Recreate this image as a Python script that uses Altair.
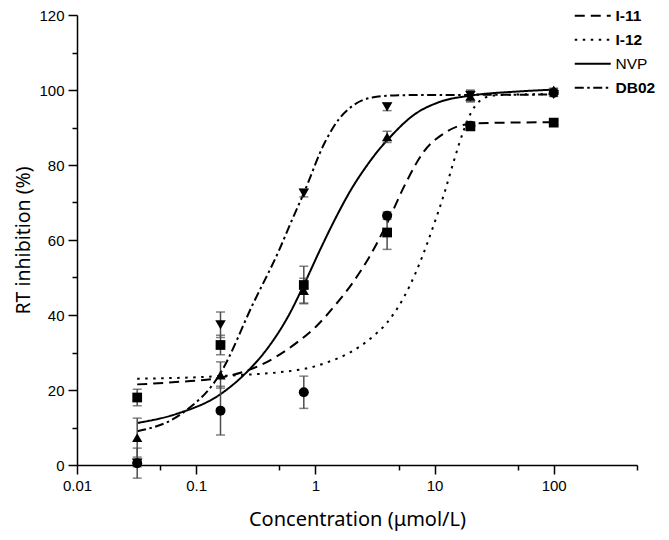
import altair as alt
import pandas as pd

# ---------------- data ----------------
series = ["I-11", "I-12", "NVP", "DB02"]
conc = [0.032, 0.16, 0.8, 4, 20, 100]

i11_mean = [18.0, 32.0, 48.0, 62.0, 90.3, 91.3]
i11_err = [2.2, 2.6, 5.0, 4.5, 1.0, 0.5]
i12_mean = [0.5, 14.5, 19.4, 66.5, 90.5, 99.3]
i12_err = [1.0, 6.5, 4.3, 1.0, 1.0, 1.0]
nvp_mean = [7.3, 24.0, 46.5, 87.5, 98.3, 100.0]
nvp_err = [5.2, 3.5, 3.3, 1.5, 1.5, 0.5]
db02_mean = [0.5, 37.4, 72.5, 95.5, 98.5, 98.8]
db02_err = [4.0, 3.4, 1.0, 1.0, 1.5, 0.5]

# fitted curves
i11_fit_x = [0.032, 0.074, 0.16, 0.34, 0.69, 1.02, 1.5, 2.1, 2.9, 4, 5.7, 8.1, 12.1, 20, 40, 100]
i11_fit_y = [21.5, 22.2, 23.3, 26.5, 32.5, 37.0, 43.0, 49.0, 56.0, 64.5, 75.0, 83.5, 88.5, 91.0, 91.3, 91.4]
i12_fit_x = [0.032, 0.16, 0.8, 1.24, 1.98, 3.1, 3.96, 5.5, 7.0, 8.5, 10.1, 12.1, 14.5, 17.7, 20.3, 23.8, 30.6, 50, 100]
i12_fit_y = [23.0, 23.7, 25.6, 27.3, 30.1, 34.5, 37.8, 44.6, 51.5, 58.3, 65.0, 72.5, 81.0, 89.5, 94.0, 97.0, 98.5, 98.8, 98.9]
nvp_fit_x = [0.032, 0.068, 0.16, 0.27, 0.39, 0.6, 0.8, 1.1, 1.46, 2, 2.8, 3.5, 4.2, 6.6, 11, 20, 50, 100]
nvp_fit_y = [11.2, 13.6, 18.9, 25.0, 30.8, 40.0, 48.0, 57.5, 65.5, 73.5, 80.5, 84.5, 87.3, 93.2, 96.8, 98.5, 99.6, 100.1]
db02_fit_x = [0.032, 0.074, 0.16, 0.3, 0.5, 0.63, 0.8, 1.2, 1.6, 2, 3, 5, 10, 20, 100]
db02_fit_y = [9.0, 13.5, 24.5, 43.0, 57.5, 65.0, 72.5, 86.0, 92.5, 95.5, 98.0, 98.6, 98.7, 98.7, 98.8]

x_ticks = [0.01, 0.1, 1, 10, 100]
x_minor = [0.05, 0.5, 5, 50, 500]
y_ticks = [0, 20, 40, 60, 80, 100, 120]
y_minor = [10, 30, 50, 70, 90, 110]

# ---------------- tables ----------------
pt_rows = []
for name, means, errs in zip(series, [i11_mean, i12_mean, nvp_mean, db02_mean],
                             [i11_err, i12_err, nvp_err, db02_err]):
    for c, m, e in zip(conc, means, errs):
        pt_rows.append({"marker": name, "conc": c, "mean": m, "lo": m - e, "hi": m + e})
pts = pd.DataFrame(pt_rows)

fit_rows = []
for name, xs, ys in zip(series, [i11_fit_x, i12_fit_x, nvp_fit_x, db02_fit_x],
                        [i11_fit_y, i12_fit_y, nvp_fit_y, db02_fit_y]):
    for c, v in zip(xs, ys):
        fit_rows.append({"series": name, "conc": c, "value": v})
fit = pd.DataFrame(fit_rows)

# ---------------- scales ----------------
x_scale = alt.Scale(type="log", domain=[0.01, 500])
y_scale = alt.Scale(domain=[0, 120], nice=False)
dash_scale = alt.Scale(domain=series, range=[[10, 6], [2.5, 5.5], [1, 0], [9, 3.5, 2.5, 3.5]])
shape_scale = alt.Scale(domain=series, range=["square", "circle", "triangle-up", "triangle-down"])
size_scale = alt.Scale(domain=series, range=[95, 110, 130, 130])

tick_font = "Liberation Sans"
title_font = "Noto Sans"

x_axis = alt.Axis(values=x_ticks, format="~g", title="Concentration (μmol/L)", orient="bottom",
                  grid=False, tickSize=9, tickWidth=1.5, tickColor="black",
                  domainColor="black", domainWidth=1.5, labelFont=tick_font, labelFontSize=15,
                  labelColor="black", labelPadding=4, labelFlush=False,
                  titleFont=title_font, titleFontSize=20, titleFontWeight="normal",
                  titleColor="black", titlePadding=16)
y_axis = alt.Axis(values=y_ticks, title="RT inhibition (%)", orient="left",
                  grid=False, tickSize=9, tickWidth=1.5, tickColor="black",
                  domainColor="black", domainWidth=1.5, labelFont=tick_font, labelFontSize=15,
                  labelColor="black", labelPadding=4, labelFlush=False,
                  titleFont=title_font, titleFontSize=19.5, titleFontWeight="normal",
                  titleColor="black", titlePadding=5)
x_minor_axis = alt.Axis(values=x_minor, title=None, orient="bottom", grid=False, domain=False,
                        labels=False, tickSize=5, tickWidth=1.5, tickColor="black")
y_minor_axis = alt.Axis(values=y_minor, title=None, orient="left", grid=False, domain=False,
                        labels=False, tickSize=5, tickWidth=1.5, tickColor="black")

legend = alt.Legend(title=None, orient="none", legendX=508, legendY=-7, padding=0,
                    symbolType="M-3,0H3", symbolSize=144, symbolStrokeWidth=2,
                    symbolStrokeColor="black", labelFont=tick_font, labelFontSize=15.5,
                    labelColor="black",
                    labelFontWeight=alt.ExprRef("datum.label == 'NVP' ? 'normal' : 'bold'"),
                    labelOffset=15, rowPadding=7)

lines = alt.Chart(fit).mark_line(color="black", strokeWidth=2, interpolate="monotone",
                                 strokeCap="butt").encode(
    x=alt.X("conc:Q", scale=x_scale, axis=x_axis),
    y=alt.Y("value:Q", scale=y_scale, axis=y_axis),
    strokeDash=alt.StrokeDash("series:N", scale=dash_scale, legend=legend),
)

minor = alt.Chart(pts).mark_point(opacity=0).encode(
    x=alt.X("conc:Q", scale=x_scale, axis=x_minor_axis),
    y=alt.Y("mean:Q", scale=y_scale, axis=y_minor_axis),
)

err = alt.Chart(pts).mark_rule(color="#4d4d4d", strokeWidth=1.5).encode(
    x=alt.X("conc:Q", scale=x_scale, axis=None),
    y=alt.Y("lo:Q", scale=y_scale, axis=None),
    y2="hi:Q",
)

caps = alt.Chart(pts).transform_fold(["lo", "hi"], as_=["end", "yv"]).mark_tick(
    orient="horizontal", size=9, thickness=1.5, color="#4d4d4d").encode(
    x=alt.X("conc:Q", scale=x_scale, axis=None),
    y=alt.Y("yv:Q", scale=y_scale, axis=None),
)

points = alt.Chart(pts).mark_point(filled=True, color="black", opacity=1).encode(
    x=alt.X("conc:Q", scale=x_scale, axis=None),
    y=alt.Y("mean:Q", scale=y_scale, axis=None),
    shape=alt.Shape("marker:N", scale=shape_scale, legend=None),
    size=alt.Size("marker:N", scale=size_scale, legend=None),
)

chart = alt.layer(lines, minor, err, caps, points).resolve_axis(
    x="independent", y="independent"
).resolve_legend(shape="independent", size="independent", strokeDash="independent").properties(
    width=560, height=450,
    autosize=alt.AutoSizeParams(type="none"),
    padding={"left": 69, "top": 7, "right": 24, "bottom": 70},
).configure_view(stroke=None)

chart.save("out.html", embed_options={"renderer": "svg", "actions": False})
